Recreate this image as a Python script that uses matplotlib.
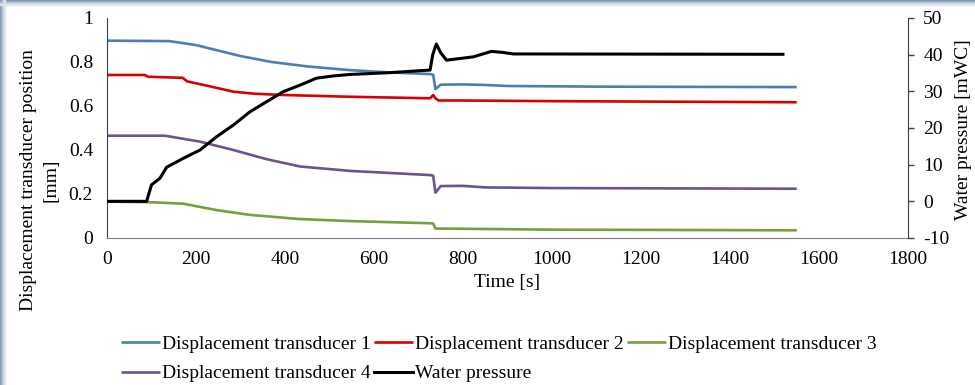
import matplotlib.pyplot as plt
from matplotlib.patches import Rectangle

# time [s] and readings picked off the chart
blue_t = [0, 140, 200, 300, 370, 450, 546, 640, 726, 733, 738, 750, 800, 845, 900, 1100, 1300, 1550]
blue_v = [0.897, 0.895, 0.877, 0.827, 0.800, 0.780, 0.763, 0.752, 0.745, 0.742, 0.677, 0.697,
          0.698, 0.696, 0.691, 0.688, 0.687, 0.686]

red_t = [0, 85, 92, 170, 180, 230, 284, 330, 396, 546, 726, 733, 738, 745, 800, 1000, 1550]
red_v = [0.741, 0.741, 0.733, 0.728, 0.712, 0.690, 0.665, 0.656, 0.650, 0.642, 0.635, 0.650,
         0.635, 0.625, 0.625, 0.622, 0.617]

green_t = [0, 93, 171, 246, 321, 434, 546, 726, 733, 738, 800, 1000, 1550]
green_v = [0.165, 0.163, 0.156, 0.127, 0.105, 0.086, 0.077, 0.067, 0.066, 0.043, 0.042, 0.038, 0.035]

purple_t = [0, 130, 209, 284, 359, 434, 546, 726, 733, 738, 750, 800, 850, 1000, 1550]
purple_v = [0.465, 0.465, 0.438, 0.400, 0.358, 0.325, 0.305, 0.286, 0.283, 0.206, 0.236, 0.237,
            0.230, 0.227, 0.224]

water_t = [0, 89, 100, 119, 134, 171, 209, 246, 284, 321, 359, 396, 434, 471, 509, 546, 636,
           726, 732, 740, 750, 763, 823, 845, 864, 890, 913, 1519]
water_p = [0, 0, 4.5, 6.3, 9.3, 11.7, 14.0, 17.6, 20.8, 24.4, 27.2, 29.9, 31.7, 33.6, 34.2, 34.6,
           35.1, 35.8, 40.0, 42.9, 40.5, 38.5, 39.4, 40.2, 40.9, 40.6, 40.2, 40.1]

labels = ['Displacement transducer 1', 'Displacement transducer 2', 'Displacement transducer 3',
          'Displacement transducer 4', 'Water pressure']
colors = ['#4A7EBB', '#D90000', '#77A03C', '#6A5293', '#000000']

plt.rcParams['font.family'] = ['Liberation Serif', 'DejaVu Serif']
plt.rcParams['font.size'] = 14
plt.rcParams['axes.unicode_minus'] = False

fig = plt.figure(figsize=(9.75, 3.85), dpi=100)
ax = fig.add_axes([107/975, 1 - 238/385, (908 - 107)/975, 220/385])
ax2 = ax.twinx()

series = [(blue_t, blue_v), (red_t, red_v), (green_t, green_v), (purple_t, purple_v)]
handles = []
for (t, v), c, lab in zip(series, colors[:4], labels[:4]):
    h, = ax.plot(t, v, color=c, lw=1.9, label=lab, solid_capstyle='butt')
    handles.append(h)
h, = ax2.plot(water_t, water_p, color=colors[4], lw=2.2, label=labels[4])
handles.append(h)

ax.set_xlim(0, 1800)
ax.set_ylim(0, 1)
ax2.set_ylim(-10, 50)
ax.set_xticks(range(0, 1801, 200))
ax.set_yticks([0, 0.2, 0.4, 0.6, 0.8, 1])
ax.set_yticklabels(['0', '0.2', '0.4', '0.6', '0.8', '1'])
ax2.set_yticks(range(-10, 51, 10))

ax.tick_params(axis='x', length=0, pad=9)
ax.tick_params(axis='y', length=0, pad=10)
ax2.tick_params(axis='y', length=4, width=1, direction='out', pad=7, color='#404040')

for a in (ax, ax2):
    a.spines['top'].set_visible(False)
ax.spines['right'].set_visible(False)
ax.spines['left'].set_color('#404040')
ax.spines['bottom'].set_color('#808080')
ax2.spines['left'].set_visible(False)
ax2.spines['bottom'].set_visible(False)
ax2.spines['right'].set_color('#404040')

ax.set_xlabel('Time [s]', labelpad=5)
fig.text(40/975, 1 - 180/385, 'Displacement transducer position\n[mm]', rotation=90,
         ha='center', va='center', multialignment='center', linespacing=1.4)
fig.text(963/975, 1 - 130/385, 'Water pressure [mWC]', rotation=90, ha='center', va='center')

# row-major order for a 3-column legend
order = [0, 3, 1, 4, 2]
fig.legend([handles[i] for i in order], [labels[i] for i in order], ncol=3,
           loc='center', bbox_to_anchor=(499/975, 1 - 359/385), frameon=False,
           handlelength=2.0, handletextpad=0.12, columnspacing=0.15, labelspacing=0.6,
           borderpad=0)

# blue-grey frame edges at left and top
for i, c in enumerate(['#7F95B0', '#96AAC0', '#AEBFD0', '#C6D2DE', '#DDE5EC']):
    fig.patches.append(Rectangle((i/975, 0), 1.4/975, 1, transform=fig.transFigure,
                                 color=c, zorder=-1))
    fig.patches.append(Rectangle((0, 1 - (i + 1.2)/385), 1, 1.2/385, transform=fig.transFigure,
                                 color=c, zorder=-1))

fig.savefig('out.png', dpi=100)
